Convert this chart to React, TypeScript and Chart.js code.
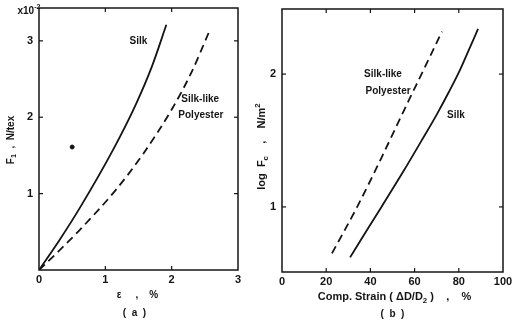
import React, { useEffect, useRef } from 'react';
import { Chart, registerables } from 'chart.js';
Chart.register(...registerables);

// ---------- Data (a): Tensile force vs strain ----------
const strainSilkA = [0, 0.3, 0.62, 1.12, 1.45, 1.7, 1.92];
const forceSilkA = [0, 0.38, 0.82, 1.58, 2.15, 2.66, 3.21];
const strainPolyA = [0, 0.3, 0.62, 1.15, 1.57, 2.02, 2.3, 2.57];
const forcePolyA = [0, 0.25, 0.53, 1.04, 1.52, 2.13, 2.59, 3.13];
const dotStrainA = [0.5];
const dotForceA = [1.61];
const xTicksA = [0, 1, 2, 3];
const yTicksA = [1, 2, 3];

// ---------- Data (b): log Fc vs compressive strain ----------
const strainSilkB = [30.8, 36, 45, 55, 63, 70, 75.5, 80.5, 84.5, 88.7];
const logFcSilkB = [0.62, 0.76, 1.0, 1.27, 1.495, 1.695, 1.865, 2.03, 2.18, 2.34];
const strainPolyB = [22.6, 34, 45, 55, 64, 72.4];
const logFcPolyB = [0.65, 1.0, 1.37, 1.72, 2.03, 2.32];
const xTicksB = [0, 20, 40, 60, 80, 100];
const yTicksB = [1, 2];

// in-plot labels, in data coordinates
const labelsA = [
  { text: 'Silk', x: 1.5, y: 3.0 },
  { text: 'Silk-like', x: 2.43, y: 2.23 },
  { text: 'Polyester', x: 2.44, y: 2.02 },
];
const labelsB = [
  { text: 'Silk-like', x: 45.7, y: 2.0 },
  { text: 'Polyester', x: 48, y: 1.87 },
  { text: 'Silk', x: 78.7, y: 1.69 },
];

const INK = '#141414';
const FAMILY = '"Liberation Sans", Arial, sans-serif';

type Seg = { t: string; s?: 'sub' | 'sup' };

function drawRich(ctx: CanvasRenderingContext2D, segs: Seg[], cx: number, cy: number, size: number, rot = 0, weight = 'bold') {
  ctx.save();
  ctx.translate(cx, cy);
  if (rot) ctx.rotate(rot);
  const font = (sz: number) => `${weight} ${sz}px ${FAMILY}`;
  let total = 0;
  const widths = segs.map((s) => {
    ctx.font = font(s.s ? size * 0.72 : size);
    const w = ctx.measureText(s.t).width;
    total += w;
    return w;
  });
  let x = -total / 2;
  ctx.textBaseline = 'middle';
  ctx.textAlign = 'left';
  ctx.fillStyle = INK;
  segs.forEach((s, i) => {
    ctx.font = font(s.s ? size * 0.72 : size);
    const dy = s.s === 'sub' ? size * 0.32 : s.s === 'sup' ? -size * 0.38 : 0;
    ctx.fillText(s.t, x, dy);
    x += widths[i];
  });
  ctx.restore();
}

type Area = { left: number; top: number; right: number; bottom: number };

type Extra = {
  labels: { text: string; x: number; y: number }[];
  draw: (ctx: CanvasRenderingContext2D, a: Area) => void;
};

function framePlugin(extra: Extra) {
  return {
    id: 'frameAndText',
    afterDatasetsDraw(chart: any) {
      const { ctx, chartArea } = chart;
      const { left, right, top, bottom } = chartArea;
      const xs = chart.scales.x;
      const ys = chart.scales.y;
      ctx.save();
      ctx.strokeStyle = INK;
      ctx.lineWidth = 1.5;
      ctx.strokeRect(left, top, right - left, bottom - top);
      ctx.lineWidth = 1.2;
      const L = 4;
      const seg = (x1: number, y1: number, x2: number, y2: number) => {
        ctx.beginPath();
        ctx.moveTo(x1, y1);
        ctx.lineTo(x2, y2);
        ctx.stroke();
      };
      xs.ticks.forEach((t: any) => {
        const px = xs.getPixelForValue(t.value);
        if (px <= left + 1 || px >= right - 1) return;
        seg(px, bottom, px, bottom - L);
        seg(px, top, px, top + L);
      });
      ys.ticks.forEach((t: any) => {
        const py = ys.getPixelForValue(t.value);
        if (py <= top + 1 || py >= bottom - 1) return;
        seg(left, py, left + L, py);
        seg(right, py, right - L, py);
      });
      extra.labels.forEach((l) => {
        drawRich(ctx, [{ t: l.text }], xs.getPixelForValue(l.x), ys.getPixelForValue(l.y), 10);
      });
      extra.draw(ctx, chartArea);
      ctx.restore();
    },
  };
}

function lineSet(xs: number[], ys: number[], dash: number[]) {
  return {
    data: xs.map((x, i) => ({ x, y: ys[i] })),
    showLine: true,
    borderColor: INK,
    borderWidth: 1.8,
    borderDash: dash,
    pointRadius: 0,
    tension: 0.4,
    cubicInterpolationMode: 'monotone',
    fill: false,
  };
}

function buildConfig(p: {
  datasets: any[];
  xMin: number; xMax: number; xTicks: number[];
  yMin: number; yMax: number; yTicks: number[];
  area: Area; width: number; height: number; extra: Extra;
}) {
  const tickFont = { family: FAMILY, size: 11, weight: 'bold' as const };
  return {
    type: 'scatter' as const,
    data: { datasets: p.datasets },
    options: {
      animation: false as const,
      responsive: false,
      maintainAspectRatio: false,
      layout: { padding: { left: 0, top: p.area.top, right: p.width - p.area.right, bottom: 0 } },
      plugins: { legend: { display: false }, tooltip: { enabled: false } },
      scales: {
        x: {
          type: 'linear' as const,
          min: p.xMin,
          max: p.xMax,
          grid: { display: false, drawTicks: false },
          border: { display: false },
          afterBuildTicks: (s: any) => { s.ticks = p.xTicks.map((v) => ({ value: v })); },
          afterFit: (s: any) => {
            s.height = p.height - p.area.bottom;
            s.paddingLeft = 0; s.paddingRight = 0; s.paddingTop = 0; s.paddingBottom = 0;
          },
          ticks: { font: tickFont, color: INK, padding: 3, maxRotation: 0, autoSkip: false },
        },
        y: {
          type: 'linear' as const,
          min: p.yMin,
          max: p.yMax,
          grid: { display: false, drawTicks: false },
          border: { display: false },
          afterBuildTicks: (s: any) => { s.ticks = p.yTicks.map((v) => ({ value: v })); },
          afterFit: (s: any) => {
            s.width = p.area.left;
            s.paddingLeft = 0; s.paddingRight = 0; s.paddingTop = 0; s.paddingBottom = 0;
          },
          ticks: { font: tickFont, color: INK, padding: 6 },
        },
      },
    },
    plugins: [framePlugin(p.extra)],
  };
}

export default function App() {
  const refA = useRef<HTMLCanvasElement>(null);
  const refB = useRef<HTMLCanvasElement>(null);

  useEffect(() => {
    const H = 328;
    const cfgA = buildConfig({
      datasets: [
        lineSet(strainSilkA, forceSilkA, []),
        lineSet(strainPolyA, forcePolyA, [8, 5]),
        {
          data: dotStrainA.map((x, i) => ({ x, y: dotForceA[i] })),
          showLine: false,
          pointRadius: 2,
          backgroundColor: INK,
          borderColor: INK,
        },
      ],
      xMin: 0, xMax: 3, xTicks: xTicksA,
      yMin: 0, yMax: 3.43, yTicks: yTicksA,
      area: { left: 39, top: 8, right: 238, bottom: 270 },
      width: 250, height: H,
      extra: {
        labels: labelsA,
        draw: (ctx, a) => {
          const mid = (a.left + a.right) / 2;
          drawRich(ctx, [{ t: 'x10' }, { t: '-2', s: 'sup' }], a.left - 10, a.top + 3, 10);
          drawRich(ctx, [{ t: 'F' }, { t: '1', s: 'sub' }, { t: '  ,  N/tex' }], a.left - 28, (a.top + a.bottom) / 2 + 1, 10, -Math.PI / 2);
          drawRich(ctx, [{ t: 'ε     ,    %' }], mid - 1, a.bottom + 25, 10);
          drawRich(ctx, [{ t: '(  a  )' }], mid - 4, a.bottom + 43, 10);
        },
      },
    });
    const cfgB = buildConfig({
      datasets: [
        lineSet(strainSilkB, logFcSilkB, []),
        lineSet(strainPolyB, logFcPolyB, [8, 5]),
      ],
      xMin: 0, xMax: 100, xTicks: xTicksB,
      yMin: 0.51, yMax: 2.49, yTicks: yTicksB,
      area: { left: 32, top: 9, right: 253, bottom: 272 },
      width: 263, height: H,
      extra: {
        labels: labelsB,
        draw: (ctx, a) => {
          const mid = (a.left + a.right) / 2;
          drawRich(ctx, [{ t: 'log  F' }, { t: 'c', s: 'sub' }, { t: '    ,    N/m' }, { t: '2', s: 'sup' }], a.left - 20, (a.top + a.bottom) / 2 + 6, 11, -Math.PI / 2);
          drawRich(ctx, [{ t: 'Comp. Strain ( ΔD/D' }, { t: '2', s: 'sub' }, { t: ' )    ,    %' }], mid + 2, a.bottom + 25, 11);
          drawRich(ctx, [{ t: '(  b  )' }], mid, a.bottom + 42, 10);
        },
      },
    });
    const a = new Chart(refA.current as HTMLCanvasElement, cfgA as any);
    const b = new Chart(refB.current as HTMLCanvasElement, cfgB as any);
    return () => { a.destroy(); b.destroy(); };
  }, []);

  return (
    <div style={{ position: 'fixed', left: 0, top: 0, width: 513, height: 328, background: '#fff' }}>
      <canvas ref={refA} width={250} height={328} style={{ position: 'absolute', left: 0, top: 0, width: 250, height: 328 }} />
      <canvas ref={refB} width={263} height={328} style={{ position: 'absolute', left: 250, top: 0, width: 263, height: 328 }} />
    </div>
  );
}
